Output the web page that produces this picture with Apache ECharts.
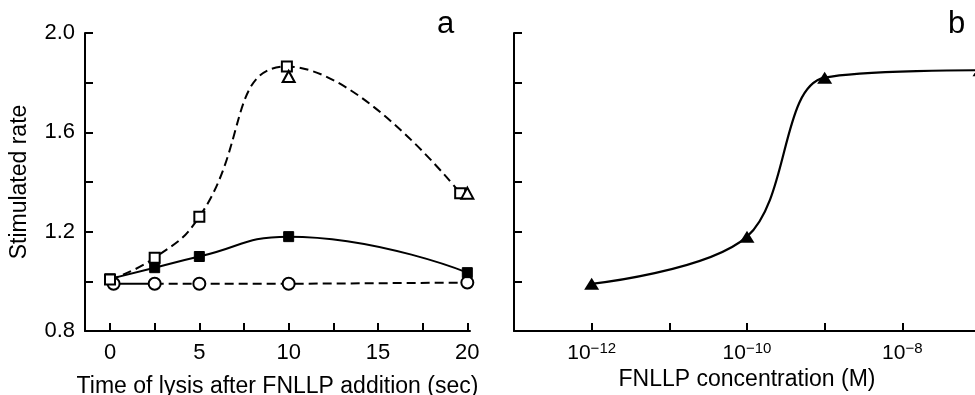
<!DOCTYPE html>
<html>
<head>
<meta charset="utf-8">
<script src="https://cdn.jsdelivr.net/npm/echarts@6/dist/echarts.min.js"></script>
<style>
html,body{margin:0;padding:0;background:#fff;}
#c{width:975px;height:395px;}
</style>
</head>
<body>
<div id="c"></div>
<script>
// Panel a: time of lysis (sec) vs stimulated rate
const timeOpenSquares = [0, 2.5, 5, 9.9, 19.6];
const rateOpenSquares = [1.007, 1.095, 1.26, 1.865, 1.355];
const timeOpenTriangles = [10, 20];
const rateOpenTriangles = [1.825, 1.355];
const timeFilledSquares = [0, 2.5, 5, 10, 20];
const rateFilledSquares = [1.01, 1.055, 1.1, 1.18, 1.035];
const timeCircles = [0.2, 2.5, 5, 10, 20];
const rateCircles = [0.99, 0.99, 0.99, 0.99, 0.995];
const timeTicks = [0, 2.5, 5, 7.5, 10, 12.5, 15, 17.5, 20];
const timeTickLabels = [0, 5, 10, 15, 20];
const rateTickLabels = [0.8, 1.2, 1.6, 2.0];

// Panel b: FNLLP concentration (M, as powers of ten) vs stimulated rate
const concExponents = [-12, -10, -9, -7];
const rateConc = [0.99, 1.18, 1.82, 1.85];
const concTickExponents = [-13, -12, -11, -10, -9, -8, -7];
const concLabelExponents = [-12, -10, -8];

const FONT = 'Liberation Sans, Arial, Helvetica, sans-serif';
const pairs = (xs, ys) => xs.map((x, i) => [x, ys[i]]);
const pow10 = e => Math.pow(10, e);

const chart = echarts.init(document.getElementById('c'), null, {renderer: 'canvas'});

const mkAxisLine = () => ({show: true, onZero: false, lineStyle: {color: '#000', width: 2}});
const mkTick = (extra) => Object.assign({show: true, inside: true, length: 8, lineStyle: {color: '#000', width: 2}}, extra || {});

const openStyle = () => ({color: '#fff', borderColor: '#000', borderWidth: 2, opacity: 1});
const dashed = () => ({color: '#000', width: 2, type: [9, 5]});

const option = {
  backgroundColor: '#fff',
  animation: false,
  textStyle: {fontFamily: FONT},
  grid: [
    {left: 85, top: 33, width: 385, height: 298, containLabel: false, outerBoundsMode: 'none'},
    {left: 514, top: 33, width: 466, height: 298, containLabel: false, outerBoundsMode: 'none'}
  ],
  graphic: [
    {type: 'text', left: 437, top: 9, style: {text: 'a', font: '31px ' + FONT, fill: '#000'}},
    {type: 'text', left: 948, top: 9, style: {text: 'b', font: '31px ' + FONT, fill: '#000'}}
  ],
  xAxis: [
    {
      gridIndex: 0, type: 'value', min: -1.4, max: 20.15,
      name: 'Time of lysis after FNLLP addition (sec)', nameLocation: 'middle', nameGap: 44,
      nameTextStyle: {fontSize: 23, color: '#000', fontFamily: FONT},
      axisLine: mkAxisLine(),
      axisTick: mkTick({customValues: timeTicks}),
      axisLabel: {customValues: timeTickLabels, fontSize: 22, color: '#000', margin: 11, fontFamily: FONT},
      splitLine: {show: false}
    },
    {
      gridIndex: 1, type: 'log', logBase: 10, min: pow10(-13), max: pow10(-7),
      name: 'FNLLP concentration (M)', nameLocation: 'middle', nameGap: 27,
      nameTextStyle: {fontSize: 23, color: '#000', fontFamily: FONT},
      axisLine: mkAxisLine(),
      axisTick: mkTick({customValues: concTickExponents.map(pow10)}),
      axisLabel: {
        customValues: concLabelExponents.map(pow10),
        margin: 10, color: '#000', fontFamily: FONT,
        formatter: v => '{a|10}{b|' + '\u2212' + Math.abs(Math.round(Math.log10(v))) + '}',
        rich: {
          a: {fontSize: 21, lineHeight: 24, color: '#000', fontFamily: FONT},
          b: {fontSize: 15, verticalAlign: 'top', color: '#000', fontFamily: FONT}
        }
      },
      splitLine: {show: false}
    }
  ],
  yAxis: [
    {
      gridIndex: 0, type: 'value', min: 0.8, max: 2.0, interval: 0.2,
      name: 'Stimulated rate', nameLocation: 'middle', nameGap: 54,
      nameTextStyle: {fontSize: 23, color: '#000', fontFamily: FONT},
      axisLine: mkAxisLine(), axisTick: mkTick(),
      axisLabel: {customValues: rateTickLabels, formatter: v => v.toFixed(1), fontSize: 22, color: '#000', margin: 10, fontFamily: FONT},
      splitLine: {show: false}
    },
    {
      gridIndex: 1, type: 'value', min: 0.8, max: 2.0, interval: 0.2,
      axisLine: mkAxisLine(), axisTick: mkTick(),
      axisLabel: {show: false},
      splitLine: {show: false}
    }
  ],
  series: [
    {
      name: 'circles-start', type: 'line', xAxisIndex: 0, yAxisIndex: 0,
      data: pairs(timeCircles, rateCircles).slice(0, 2),
      symbol: 'none', lineStyle: {color: '#000', width: 2}, z: 2
    },
    {
      name: 'circles', type: 'line', xAxisIndex: 0, yAxisIndex: 0,
      data: pairs(timeCircles, rateCircles).slice(1),
      symbol: 'none', lineStyle: dashed(), z: 2
    },
    {
      name: 'circles-markers', type: 'scatter', xAxisIndex: 0, yAxisIndex: 0,
      data: pairs(timeCircles, rateCircles),
      symbol: 'circle', symbolSize: 12, itemStyle: openStyle(), z: 3
    },
    {
      name: 'filled squares', type: 'line', xAxisIndex: 0, yAxisIndex: 0,
      data: pairs(timeFilledSquares, rateFilledSquares), smooth: 0.5,
      symbol: 'rect', symbolSize: 10, showAllSymbol: true,
      itemStyle: {color: '#000', borderColor: '#000', borderWidth: 1, opacity: 1},
      lineStyle: {color: '#000', width: 2}, z: 4
    },
    {
      name: 'open squares', type: 'line', xAxisIndex: 0, yAxisIndex: 0,
      data: pairs(timeOpenSquares, rateOpenSquares), smooth: 0.5,
      symbol: 'rect', symbolSize: 10, showAllSymbol: true,
      itemStyle: openStyle(), lineStyle: dashed(), z: 5
    },
    {
      name: 'open triangles', type: 'scatter', xAxisIndex: 0, yAxisIndex: 0,
      data: pairs(timeOpenTriangles, rateOpenTriangles),
      symbol: 'triangle', symbolSize: [12, 11], itemStyle: openStyle(), z: 6
    },
    {
      name: 'FNLLP', type: 'line', xAxisIndex: 1, yAxisIndex: 1,
      data: pairs(concExponents.map(pow10), rateConc), smooth: 0.35,
      symbol: 'triangle', symbolSize: [15, 12], showAllSymbol: true,
      itemStyle: {color: '#000', opacity: 1}, lineStyle: {color: '#000', width: 2.2}, z: 5
    }
  ]
};
chart.setOption(option);
</script>
</body>
</html>
